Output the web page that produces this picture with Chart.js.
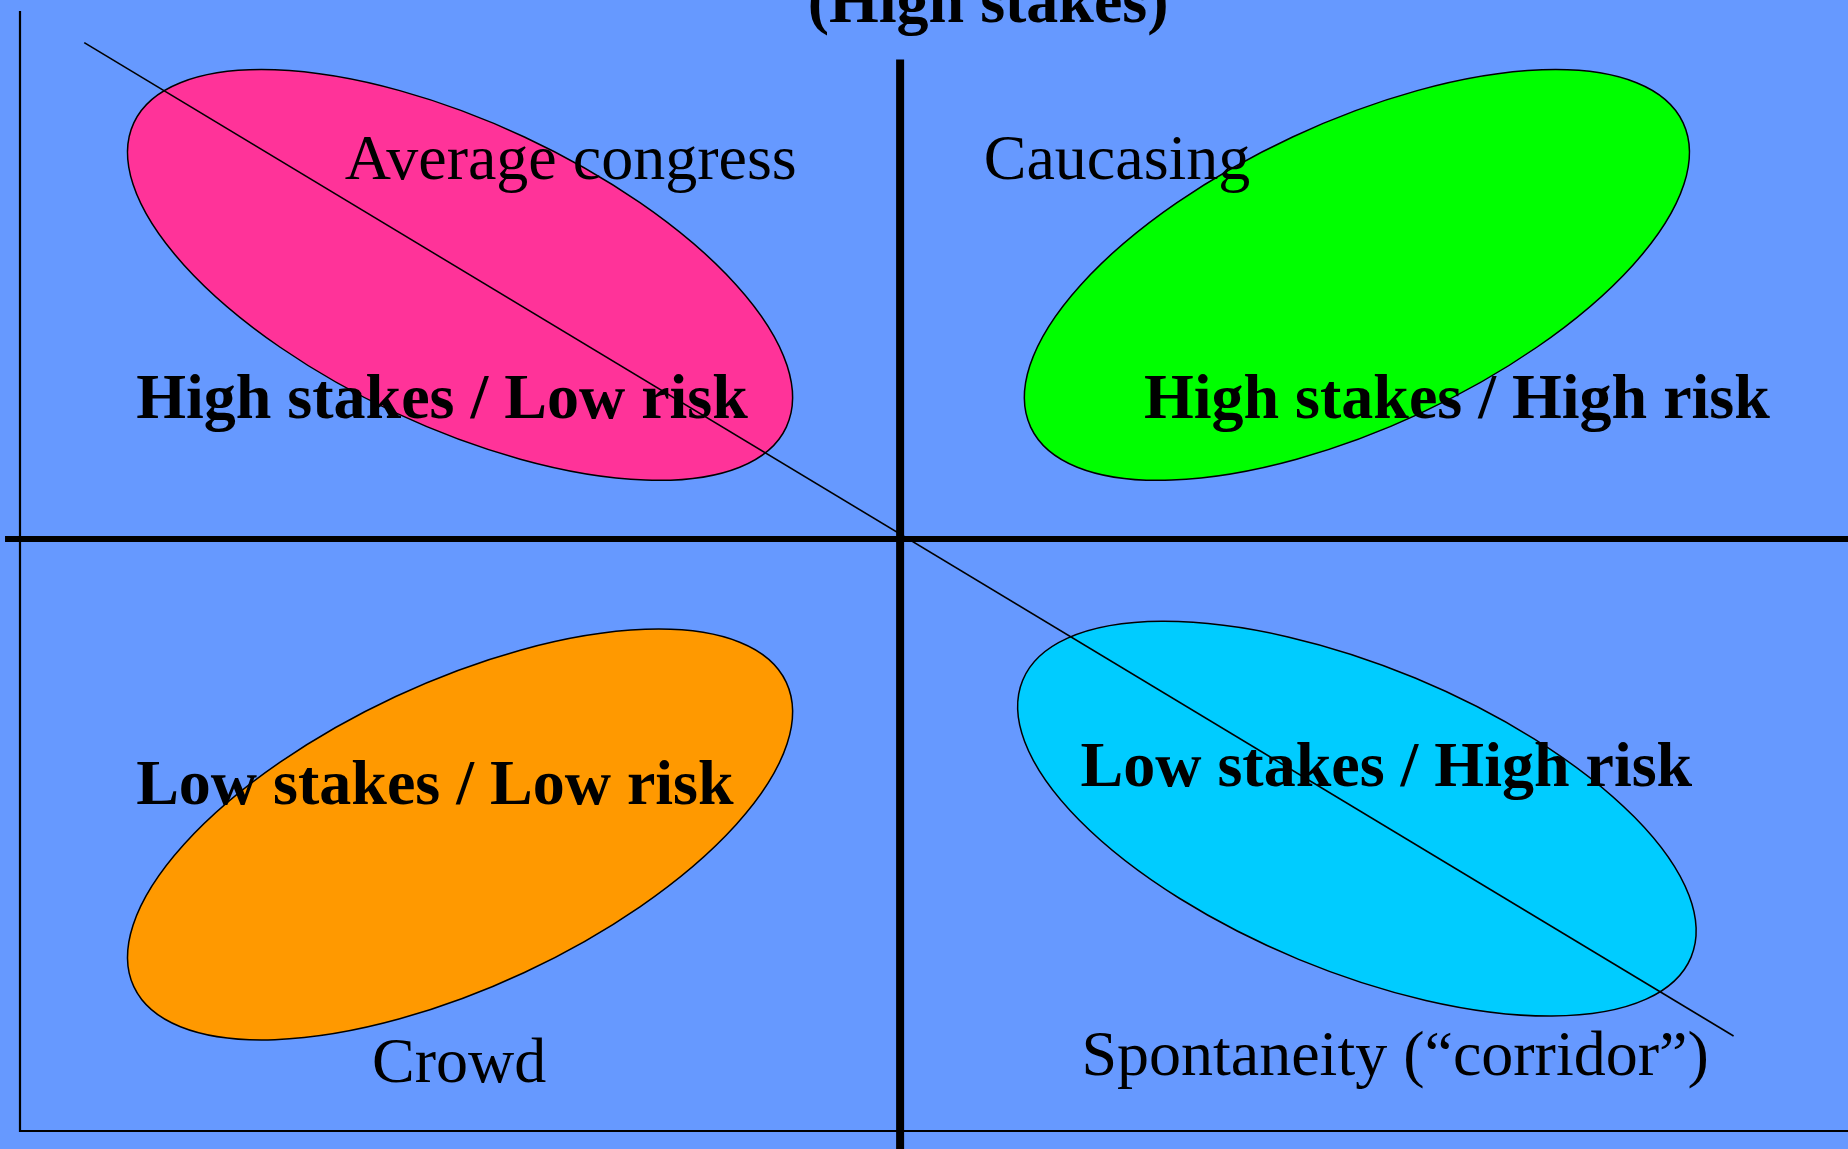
<!DOCTYPE html>
<html>
<head>
<meta charset="utf-8">
<script src="https://cdn.jsdelivr.net/npm/chart.js@4.4.0/dist/chart.umd.min.js"></script>
<style>
  html, body { margin: 0; padding: 0; background: #6699ff; overflow: hidden; }
  #wrap { width: 1848px; height: 1149px; }
</style>
</head>
<body>
<div id="wrap"><canvas id="c"></canvas></div>
<script>
/* Quadrant names (x = risk, y = stakes) */
const quadrantNames = ["High stakes / Low risk", "High stakes / High risk", "Low stakes / Low risk", "Low stakes / High risk"];
const quadrantX = [-8.68, 2.77, -8.68, 2.05];
const quadrantY = [1.375, 1.375, -3.01, -2.81];

/* Example situations */
const exampleNames = ["Average congress", "Caucasing", "Crowd", "Spontaneity (\u201ccorridor\u201d)"];
const exampleX = [-6.31, 0.95, -6.0, 2.06];
const exampleY = [4.09, 4.09, -6.17, -6.09];

/* Ellipse centres, one per quadrant */
const blobX = [-5.0, 5.19, -5.0, 5.19];
const blobY = [3.0, 3.0, -3.36, -3.18];
const blobTilt = [25, -25, -25, 22.5];

/* Axis title and ranges */
const axisTitle = "(High stakes)";
const titleX = 1.0;
const titleY = 5.875;
const xRange = [-10, 10.77];
const yRange = [-6.73, 6];

/* Lines */
const trendLine = [{ x: -9.27, y: 5.64 }, { x: 9.47, y: -5.65 }];
const stakesAxis = [{ x: 0, y: 5.45 }, { x: 0, y: -6.95 }];
const riskAxis = [{ x: -10.17, y: 0 }, { x: 10.77, y: 0 }];
const frame = [{ x: -10, y: 6 }, { x: -10, y: -6.73 }, { x: 10.77, y: -6.73 }];

/* Styles */
const BG = "#6699ff";
const blobColors = ["#ff3399", "#00ff00", "#ff9900", "#00ccff"];
const BLOB_A = [4.09, 4.09, 4.09, 4.11];
const BLOB_B = 1.73;
const SERIF = '"Liberation Serif", "Times New Roman", serif';

/* Fill whole canvas */
const bgPlugin = {
  id: "bg",
  beforeDraw(chart) {
    const ctx = chart.ctx;
    ctx.save();
    ctx.fillStyle = BG;
    ctx.fillRect(0, 0, chart.width, chart.height);
    ctx.restore();
  },
};

/* Draw the ellipses under the lines */
const blobPlugin = {
  id: "blobs",
  beforeDatasetsDraw(chart) {
    const ctx = chart.ctx;
    const xs = chart.scales.x;
    const ys = chart.scales.y;
    ctx.save();
    blobX.forEach((bx, i) => {
      const cx = xs.getPixelForValue(bx);
      const cy = ys.getPixelForValue(blobY[i]);
      const rx = xs.getPixelForValue(bx + BLOB_A[i]) - cx;
      const ry = xs.getPixelForValue(bx + BLOB_B) - cx;
      ctx.beginPath();
      ctx.ellipse(cx, cy, rx, ry, (blobTilt[i] * Math.PI) / 180, 0, Math.PI * 2);
      ctx.fillStyle = blobColors[i];
      ctx.fill();
      ctx.lineWidth = 1.5;
      ctx.strokeStyle = "#000";
      ctx.stroke();
    });
    ctx.restore();
  },
};

/* Draw the texts on top */
const labelPlugin = {
  id: "labels",
  afterDatasetsDraw(chart) {
    const ctx = chart.ctx;
    const xs = chart.scales.x;
    const ys = chart.scales.y;
    ctx.save();
    ctx.fillStyle = "#000";
    ctx.textBaseline = "alphabetic";
    ctx.textAlign = "left";
    ctx.font = "bold 64px " + SERIF;
    quadrantNames.forEach((t, i) => {
      ctx.fillText(t, xs.getPixelForValue(quadrantX[i]), ys.getPixelForValue(quadrantY[i]));
    });
    ctx.font = "64px " + SERIF;
    exampleNames.forEach((t, i) => {
      ctx.fillText(t, xs.getPixelForValue(exampleX[i]), ys.getPixelForValue(exampleY[i]));
    });
    ctx.font = "bold 64px " + SERIF;
    ctx.textAlign = "center";
    ctx.fillText(axisTitle, xs.getPixelForValue(titleX), ys.getPixelForValue(titleY));
    ctx.restore();
  },
};

const lineSet = (data, width) => ({
  data,
  showLine: true,
  borderColor: "#000",
  borderWidth: width,
  pointRadius: 0,
  fill: false,
  clip: false,
});

new Chart(document.getElementById("c"), {
  type: "scatter",
  plugins: [bgPlugin, blobPlugin, labelPlugin],
  data: {
    datasets: [
      lineSet(frame, 2.2),
      lineSet(trendLine, 1.6),
      lineSet(stakesAxis, 8),
      lineSet(riskAxis, 6),
    ],
  },
  options: {
    responsive: true,
    maintainAspectRatio: false,
    animation: false,
    layout: { padding: { left: 20, top: 11, right: 0, bottom: 18 } },
    plugins: { legend: { display: false }, tooltip: { enabled: false } },
    events: [],
    scales: {
      x: { type: "linear", min: xRange[0], max: xRange[1], display: false },
      y: { type: "linear", min: yRange[0], max: yRange[1], display: false },
    },
  },
});
</script>
</body>
</html>
